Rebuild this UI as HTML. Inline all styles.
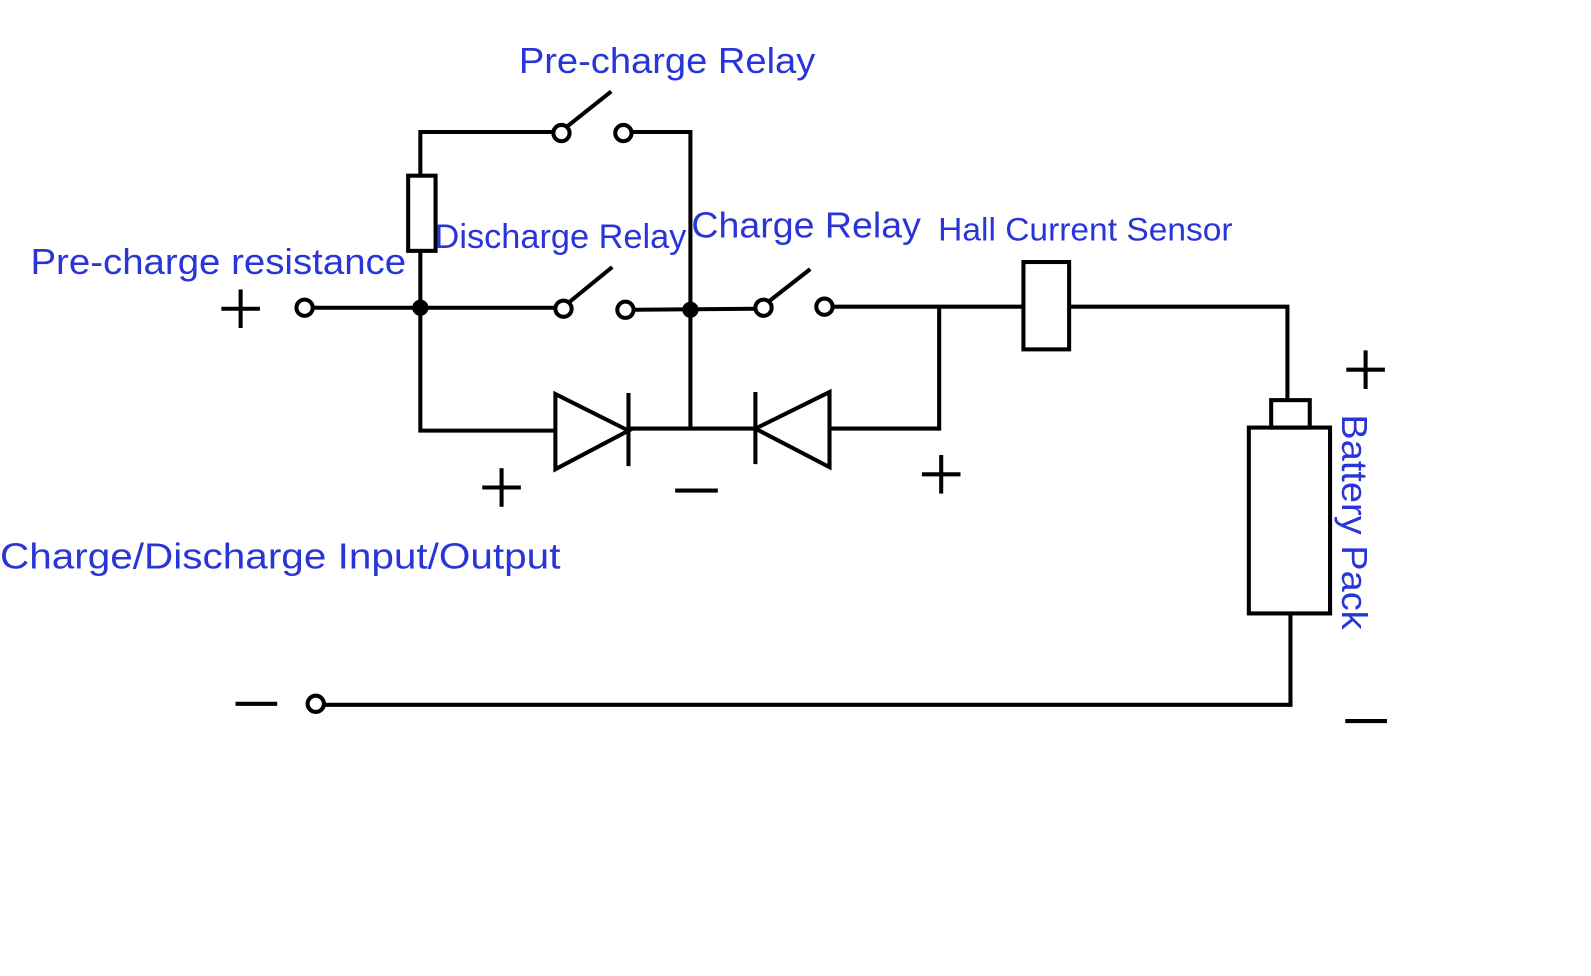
<!DOCTYPE html>
<html><head><meta charset="utf-8"><style>html,body{margin:0;padding:0;background:#fff}</style></head>
<body>
<svg width="1591" height="976" viewBox="0 0 1567 961" preserveAspectRatio="none" xmlns="http://www.w3.org/2000/svg" style="display:block">
<g stroke="#000" stroke-width="4" fill="none">
<polyline points="414,173 414,130 545,130"/>
<circle cx="553" cy="131" r="8" fill="#fff"/>
<line x1="558" y1="125" x2="602" y2="90"/>
<circle cx="614" cy="131" r="8" fill="#fff"/>
<polyline points="622,130 680,130 680,422"/>
<rect x="402" y="173" width="27" height="74"/>
<line x1="414" y1="247" x2="414" y2="303"/>
<circle cx="300" cy="303" r="8" fill="#fff"/>
<line x1="308" y1="303" x2="547" y2="303"/>
<circle cx="555" cy="304" r="8" fill="#fff"/>
<line x1="560" y1="298" x2="603" y2="263"/>
<circle cx="616" cy="305" r="8" fill="#fff"/>
<line x1="624" y1="305" x2="744" y2="304"/>
<circle cx="752" cy="303" r="8" fill="#fff"/>
<line x1="757" y1="297" x2="798" y2="265"/>
<circle cx="812" cy="302" r="8" fill="#fff"/>
<polyline points="820,302 1268,302 1268,394"/>
<rect x="1008" y="258" width="45" height="86" fill="#fff"/>
<line x1="925" y1="302" x2="925" y2="424"/>
<polyline points="414,303 414,424 547,424"/>
<polygon points="547,388 547,462 619,424"/>
<line x1="619" y1="387" x2="619" y2="459"/>
<line x1="619" y1="422" x2="744" y2="422"/>
<line x1="744" y1="386" x2="744" y2="457"/>
<polygon points="817,386 817,460 744,422"/>
<line x1="817" y1="422" x2="925" y2="422"/>
<rect x="1252" y="394" width="38" height="27"/>
<rect x="1230" y="421" width="80" height="183"/>
<polyline points="1271,604 1271,694 319,694"/>
<circle cx="311" cy="693" r="8" fill="#fff"/>
<line x1="218" y1="304" x2="256" y2="304"/><line x1="237" y1="285" x2="237" y2="323"/>
<line x1="475" y1="480" x2="513" y2="480"/><line x1="494" y1="461" x2="494" y2="499"/>
<line x1="665" y1="483" x2="707" y2="483"/>
<line x1="908" y1="467" x2="946" y2="467"/><line x1="927" y1="448" x2="927" y2="486"/>
<line x1="1326" y1="364" x2="1364" y2="364"/><line x1="1345" y1="345" x2="1345" y2="383"/>
<line x1="1325" y1="710" x2="1366" y2="710"/>
<line x1="232" y1="693" x2="273" y2="693"/>
</g>
<g fill="#2a35d8" font-family="Liberation Sans, DejaVu Sans, sans-serif">
<circle cx="414" cy="303" r="8" fill="#000"/>
<circle cx="680" cy="305" r="8" fill="#000"/>
<text x="511" y="72" font-size="36" textLength="292" lengthAdjust="spacingAndGlyphs">Pre-charge Relay</text>
<text x="30" y="270" font-size="36" textLength="370" lengthAdjust="spacingAndGlyphs">Pre-charge resistance</text>
<text x="428" y="244" font-size="34" textLength="248" lengthAdjust="spacingAndGlyphs">Discharge Relay</text>
<text x="681" y="234" font-size="36" textLength="226" lengthAdjust="spacingAndGlyphs">Charge Relay</text>
<text x="924" y="237" font-size="32" textLength="290" lengthAdjust="spacingAndGlyphs">Hall Current Sensor</text>
<text x="0" y="560" font-size="36" textLength="552" lengthAdjust="spacingAndGlyphs">Charge/Discharge Input/Output</text>
<text x="0" y="0" font-size="36" transform="translate(1322,408) rotate(90)" textLength="212" lengthAdjust="spacingAndGlyphs">Battery Pack</text>
</g>
</svg>
</body></html>
